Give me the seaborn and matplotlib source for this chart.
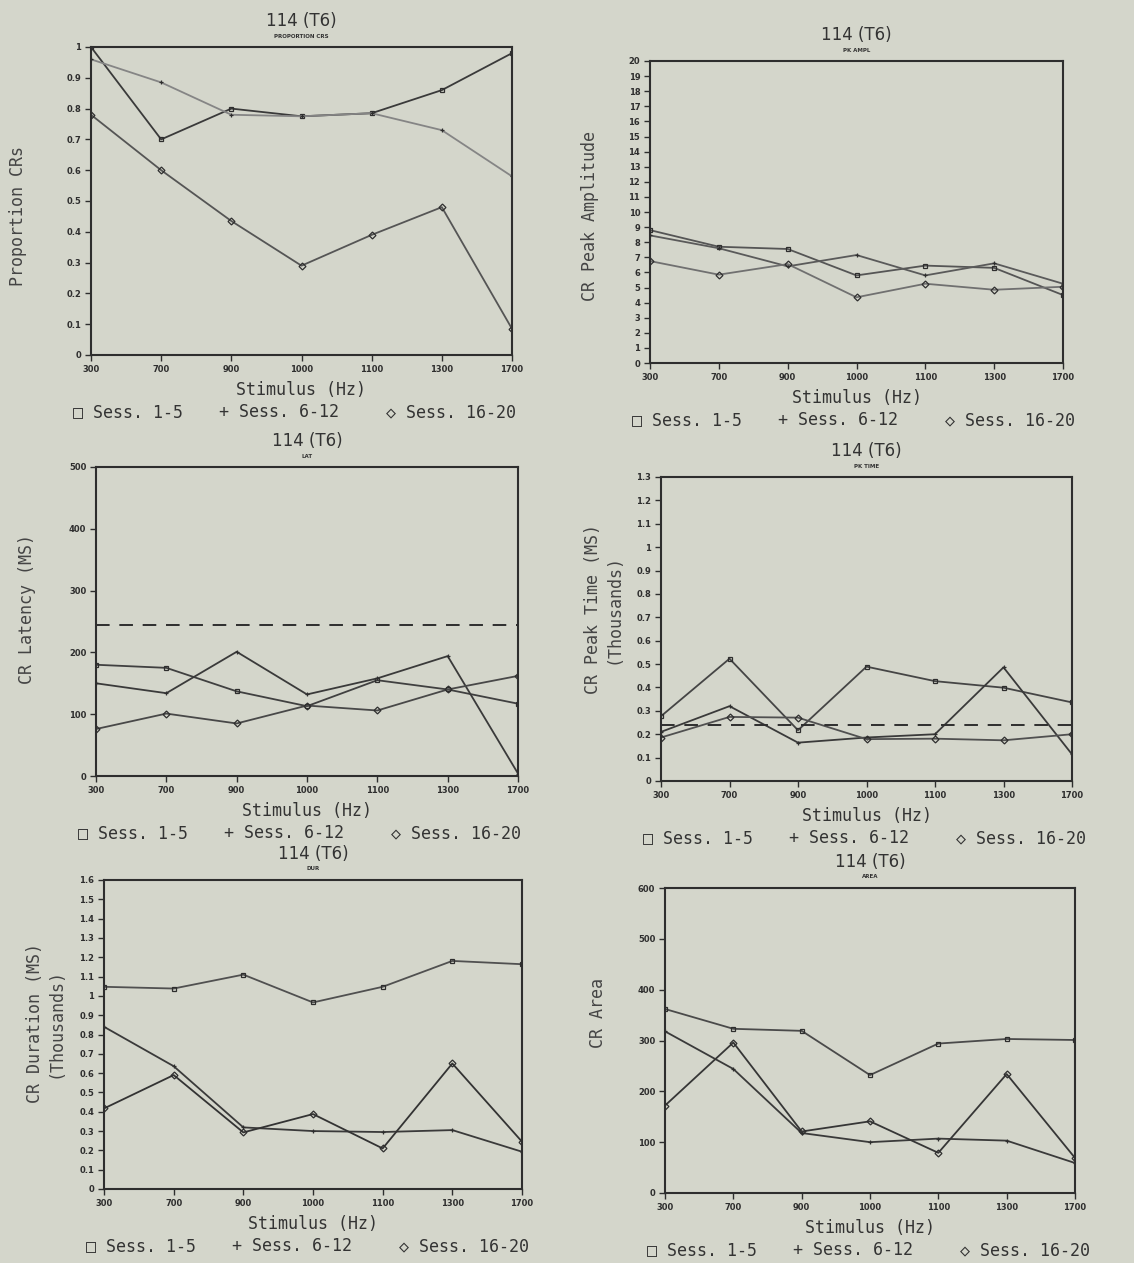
import matplotlib.pyplot as plt
import numpy as np
import pandas as pd
import seaborn as sns

# stimulus frequencies (categorical, evenly spaced on the x axis)
STIM = ['300', '700', '900', '1000', '1100', '1300', '1700']
SESS = ['Sess. 1-5', 'Sess. 6-12', 'Sess. 16-20']
MARKS = ['s', '+', 'D']

# proportion of CRs
prop_a = [1.00, 0.70, 0.80, 0.775, 0.785, 0.86, 0.98]
prop_b = [0.96, 0.885, 0.78, 0.775, 0.785, 0.73, 0.58]
prop_c = [0.78, 0.60, 0.435, 0.29, 0.39, 0.48, 0.085]

# CR peak amplitude
amp_a = [8.8, 7.7, 7.55, 5.8, 6.45, 6.3, 4.5]
amp_b = [8.45, 7.6, 6.4, 7.15, 5.8, 6.6, 5.25]
amp_c = [6.75, 5.85, 6.55, 4.35, 5.25, 4.85, 5.05]

# CR latency (ms)
lat_a = [180, 175, 137, 113, 155, 140, 117]
lat_b = [150, 134, 201, 132, 158, 194, 4]
lat_c = [76, 101, 85, 114, 106, 140, 162]
lat_ref = 245

# CR peak time (thousands of ms)
pkt_a = [0.277, 0.523, 0.217, 0.489, 0.427, 0.399, 0.336]
pkt_b = [0.21, 0.32, 0.164, 0.186, 0.20, 0.486, 0.114]
pkt_c = [0.186, 0.274, 0.271, 0.179, 0.181, 0.174, 0.20]
pkt_ref = 0.24

# CR duration (thousands of ms)
dur_a = [1.047, 1.038, 1.11, 0.966, 1.047, 1.181, 1.164]
dur_b = [0.84, 0.636, 0.319, 0.30, 0.295, 0.305, 0.193]
dur_c = [0.417, 0.59, 0.293, 0.388, 0.21, 0.65, 0.245]

# CR area
area_a = [362, 323, 319, 232, 294, 303, 301]
area_b = [318, 244, 118, 100, 107, 103, 59]
area_c = [172, 296, 121, 141, 79, 234, 69]

W, H = 1134, 1263
BG = '#d4d6cb'
INK = '#2e2e2e'
MONO = ['DejaVu Sans Mono', 'DejaVu Sans']

sns.set_theme(style='ticks')
plt.rcParams['font.family'] = ['DejaVu Sans']


def fx(x):
    return x / W


def fy(y):
    return 1 - y / H


panels = [
    dict(box=(91, 512, 47, 355), series=[prop_a, prop_b, prop_c], top=1.0, step=0.1,
         ylabel='Proportion CRs', ylab=(18, 216), sub='PROPORTION CRS', ref=None,
         colors=['#3a3a3a', '#858585', '#555555']),
    dict(box=(650, 1063, 61, 363), series=[amp_a, amp_b, amp_c], top=20, step=1,
         ylabel='CR Peak Amplitude', ylab=(590, 216), sub='PK AMPL', ref=None,
         colors=['#555555', '#5a5a5a', '#707070']),
    dict(box=(96, 518, 467, 776), series=[lat_a, lat_b, lat_c], top=500, step=100,
         ylabel='CR Latency (MS)', ylab=(27, 609), sub='LAT', ref=lat_ref,
         colors=['#404040', '#3a3a3a', '#484848']),
    dict(box=(661, 1072, 477, 781), series=[pkt_a, pkt_b, pkt_c], top=1.3, step=0.1,
         ylabel='CR Peak Time (MS)\n(Thousands)', ylab=(603, 609), sub='PK TIME', ref=pkt_ref,
         colors=['#454545', '#3a3a3a', '#505050']),
    dict(box=(104, 522, 880, 1189), series=[dur_a, dur_b, dur_c], top=1.6, step=0.1,
         ylabel='CR Duration (MS)\n(Thousands)', ylab=(45, 1023), sub='DUR', ref=None,
         colors=['#505050', '#3a3a3a', '#333333']),
    dict(box=(665, 1075, 888, 1193), series=[area_a, area_b, area_c], top=600, step=100,
         ylabel='CR Area', ylab=(598, 1013), sub='AREA', ref=None,
         colors=['#4a4a4a', '#3a3a3a', '#363636']),
]

fig = plt.figure(figsize=(W / 100, H / 100), dpi=100, facecolor=BG)

for p in panels:
    l, r, t, b = p['box']
    ax = fig.add_axes([l / W, 1 - b / H, (r - l) / W, (b - t) / H], facecolor=BG)
    for vals, mk, col in zip(p['series'], MARKS, p['colors']):
        df = pd.DataFrame({'stim': STIM, 'value': vals})
        sns.lineplot(data=df, x='stim', y='value', sort=False, ax=ax, color=col,
                     linewidth=1.3, marker=mk, markersize=3.5, markerfacecolor='none',
                     markeredgecolor=INK, markeredgewidth=0.9)
    if p['ref'] is not None:
        ax.axhline(p['ref'], color=INK, linewidth=1.4, dashes=(7, 5))

    ax.set_xlim(0, len(STIM) - 1)
    ax.set_ylim(0, p['top'])
    yt = np.round(np.arange(0, p['top'] + p['step'] / 2, p['step']), 1)
    ax.set_yticks(yt)
    ax.set_yticklabels(['%g' % v for v in yt])
    ax.tick_params(axis='both', direction='out', length=4, width=1, colors=INK,
                   labelsize=6, pad=3)
    for lab in ax.get_xticklabels() + ax.get_yticklabels():
        lab.set_fontweight('bold')
    ax.set_xlabel('')
    ax.set_ylabel('')
    for sp in ax.spines.values():
        sp.set_visible(True)
        sp.set_color(INK)
        sp.set_linewidth(1.5)

    cx = (l + r) / 2
    fig.text(fx(cx), fy(t - 26), '114 (T6)', ha='center', va='center',
             fontsize=12, color='#333333')
    fig.text(fx(cx), fy(t - 11), p['sub'], ha='center', va='center',
             fontsize=4, fontweight='bold', color='#333333')
    fig.text(fx(cx), fy(b + 35), 'Stimulus (Hz)', ha='center', va='center',
             fontsize=12, family=MONO, color='#333333')
    fig.text(fx(p['ylab'][0]), fy(p['ylab'][1]), p['ylabel'], ha='center', va='center',
             rotation=90, fontsize=12, family=MONO, color='#444444', linespacing=1.15)
    for off, txt in zip([-18, 128, 295], ['\u25a1 Sess. 1-5', '+ Sess. 6-12', '\u25c7 Sess. 16-20']):
        fig.text(fx(l + off), fy(b + 57), txt, ha='left', va='center',
                 fontsize=12, family=MONO, color='#333333')

fig.savefig('out.png', dpi=100, facecolor=BG)
